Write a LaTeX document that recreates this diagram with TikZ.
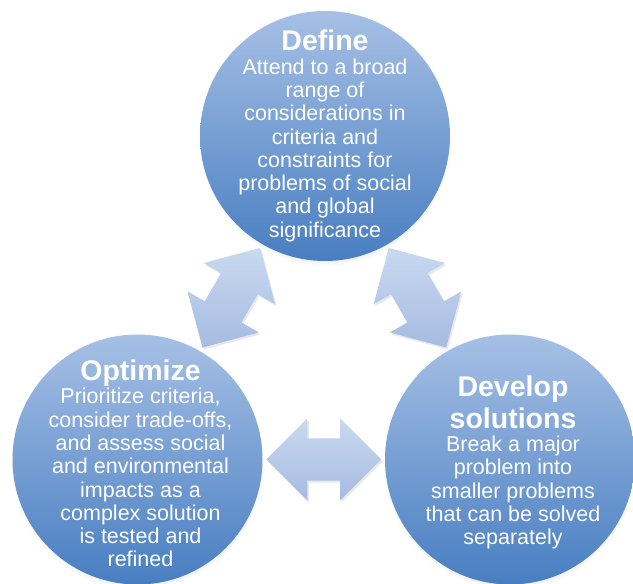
\documentclass[tikz,border=0pt]{standalone}
\usepackage{fontspec}
\setsansfont{Liberation Sans}
\usepackage{tikz}
\usetikzlibrary{shapes.arrows,shadows,calc,positioning}
\definecolor{cytop}{RGB}{166,192,229}
\definecolor{cybot}{RGB}{72,126,193}
\definecolor{artop}{RGB}{200,217,240}
\definecolor{arbot}{RGB}{166,187,225}
\newcommand{\cyttl}[1]{{\fontsize{28.5}{27.5}\selectfont\bfseries #1}}
\tikzset{
  bub/.style={
    circle, minimum size=250pt, inner sep=0pt,
    top color=cytop, bottom color=cybot,
    circular drop shadow={shadow xshift=0pt, shadow yshift=-4pt,
      shadow scale=1.01, opacity=0.35}
  },
  txt/.style={
    text=white, align=center, inner sep=0pt,
    font=\fontsize{21.5}{23.3}\selectfont\sffamily
  },
  dblarr/.style={
    double arrow, double arrow tip angle=90, double arrow head extend=20pt,
    minimum height=115pt, inner xsep=0pt, inner ysep=21pt,
    top color=artop, bottom color=arbot,
    drop shadow={shadow xshift=1.5pt, shadow yshift=-2pt, opacity=0.18}
  },
  every picture/.append style={font=\sffamily}
}
\begin{document}
\begin{tikzpicture}[x=1pt, y=1pt]
  \useasboundingbox (0,0) rectangle (633,584);
  \node[bub] (define) at (325,448) {};
  \node[bub] (optimize) at (137.5,124.5) {};
  \node[bub] (develop) at (510,124.5) {};
  % cycle arrows
  \node[dblarr, rotate=60] (arrdo) at ($(define)!0.5!(optimize)$) {};
  \node[dblarr, rotate=-60] (arrdd) at ($(define)!0.5!(develop)$) {};
  \node[dblarr] (arrod) at ($(optimize)!0.5!(develop)$) {};
  % texts
  \node[txt] (definetxt) at (define) {\cyttl{Define}\\Attend to a broad\\range of\\considerations in\\criteria and\\constraints for\\problems of social\\and global\\significance};
  \node[txt] (optimizetxt) at ([xshift=3pt,yshift=-4pt]optimize.center) {\cyttl{Optimize}\\Prioritize criteria,\\consider trade-offs,\\and assess social\\and environmental\\impacts as a\\complex solution\\is tested and\\refined};
  \node[txt] (developtxt) at ([xshift=3pt,yshift=-3pt]develop.center) {\cyttl{Develop}\\[4pt]\cyttl{solutions}\\Break a major\\problem into\\smaller problems\\that can be solved\\separately};
\end{tikzpicture}
\end{document}
